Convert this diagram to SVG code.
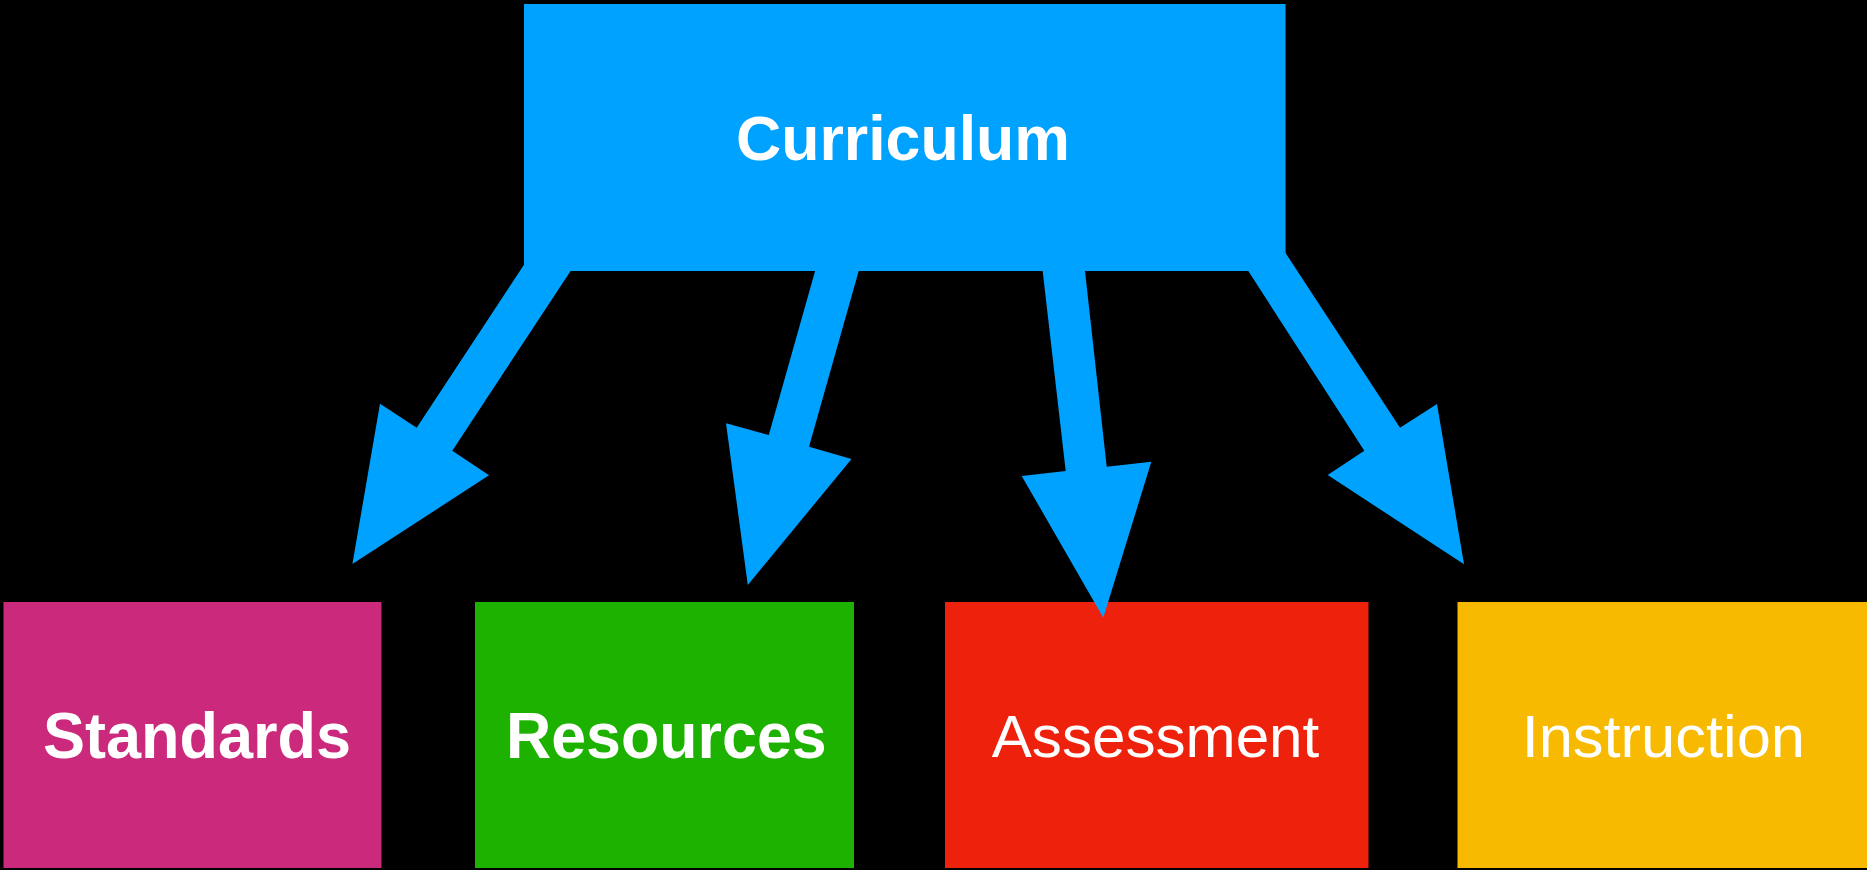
<svg xmlns="http://www.w3.org/2000/svg" width="1867" height="870" viewBox="0 0 1867 870">
<style>
.bold{font-family:"Liberation Sans",Arial,sans-serif;font-weight:bold;fill:#fff;text-anchor:middle}
.reg{font-family:"Liberation Sans",Arial,sans-serif;font-weight:normal;fill:#fff;text-anchor:middle}
.arrow{fill:#00A2FF}
</style>
<rect x="0" y="0" width="1867" height="870" fill="#000"/>
<g id="curriculum">
<rect x="524" y="4" width="761.5" height="267" fill="#00A2FF"/>
</g>
<g id="standards">
<rect x="3.5" y="602" width="378" height="266" fill="#CB297B"/>
<text class="bold" x="197" y="758" font-size="64" textLength="308" lengthAdjust="spacingAndGlyphs">Standards</text>
</g>
<g id="resources">
<rect x="475" y="602" width="379" height="266" fill="#1DB100"/>
<text class="bold" x="666.3" y="758" font-size="64" textLength="320.7" lengthAdjust="spacingAndGlyphs">Resources</text>
</g>
<g id="assessment">
<rect x="945" y="602" width="423.5" height="266" fill="#EE220C"/>
<text class="reg" x="1155.5" y="757" font-size="59" textLength="327.6" lengthAdjust="spacingAndGlyphs">Assessment</text>
</g>
<g id="instruction">
<rect x="1457.5" y="602" width="409.5" height="266" fill="#F8BA00"/>
<text class="reg" x="1663.3" y="757" font-size="59" textLength="283.3" lengthAdjust="spacingAndGlyphs">Instruction</text>
</g>
<g id="connectors">
<polygon class="arrow" points="535,248 416.7,427.7 380,403.7 352.4,564 489,475.3 452.3,450.7 581.6,254.3"/>
<polygon class="arrow" points="819.9,254 768.8,435 726,423.3 747.8,585 851.5,459 809,446.7 863.5,254"/>
<polygon class="arrow" points="1040.7,254 1065.7,471 1021.7,476 1103.3,617.7 1151.3,461.7 1106.7,466.7 1083.1,254"/>
<polygon class="arrow" points="1237.3,254 1364.3,450.7 1327.7,475 1464,564.3 1437,404 1400,427.7 1279.2,243.3"/>
</g>
<g id="curriculum-label">
<text class="bold" x="903" y="160" font-size="63" textLength="334" lengthAdjust="spacingAndGlyphs">Curriculum</text>
</g>
</svg>
